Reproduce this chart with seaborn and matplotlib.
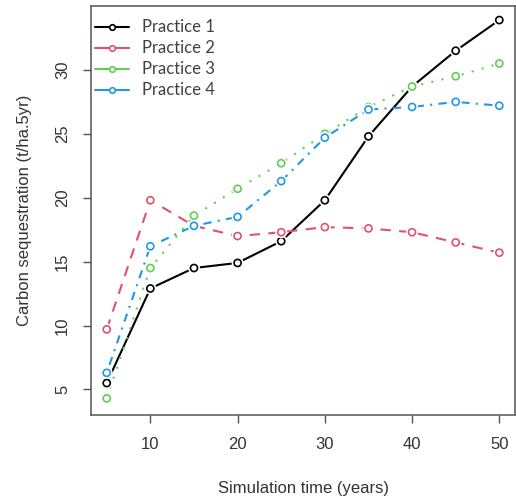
import numpy as np
import pandas as pd
import matplotlib
matplotlib.use('Agg')
import matplotlib.pyplot as plt
import matplotlib.patheffects as pe
from matplotlib.lines import Line2D
import seaborn as sns

years = [5, 10, 15, 20, 25, 30, 35, 40, 45, 50]
practice1 = [5.5, 12.9, 14.5, 14.9, 16.6, 19.8, 24.8, 28.7, 31.5, 33.9]
practice2 = [9.7, 19.8, 17.8, 17.0, 17.3, 17.7, 17.6, 17.3, 16.5, 15.7]
practice3 = [4.3, 14.5, 18.6, 20.7, 22.7, 25.0, 27.1, 28.7, 29.5, 30.5]
practice4 = [6.3, 16.2, 17.8, 18.5, 21.3, 24.7, 26.9, 27.1, 27.5, 27.2]
labels = ['Practice 1', 'Practice 2', 'Practice 3', 'Practice 4']
xticks = [10, 20, 30, 40, 50]
yticks = [5, 10, 15, 20, 25, 30]

COLORS = ['black', '#DF536B', '#61D04F', '#2297E6']
LINESTYLES = ['-', (0, (5, 4)), (0, (1, 4)), (0, (1, 3, 4, 3))]

df = pd.DataFrame({'time': years * 4,
                   'carbon': practice1 + practice2 + practice3 + practice4,
                   'practice': np.repeat(labels, len(years))})

sns.set_style('ticks')
plt.rcParams['font.family'] = ['Liberation Sans', 'DejaVu Sans']

fig = plt.figure(figsize=(5.16, 5.0), dpi=100)
ax = fig.add_axes([0.1764, 0.17, 0.8217, 0.818])

# white ring round each point, like R's type = "b"
halo = [pe.withStroke(linewidth=3.5, foreground='white')]
for name, c, ls in zip(labels, COLORS, LINESTYLES):
    sub = df[df['practice'] == name]
    sns.lineplot(data=sub, x='time', y='carbon', color=c, linestyle=ls,
                 linewidth=1.5, ax=ax, zorder=2)
for name, c in zip(labels, COLORS):
    sub = df[df['practice'] == name]
    sns.scatterplot(data=sub, x='time', y='carbon', marker='o', s=26,
                    facecolor='white', edgecolor=c, linewidth=1.2,
                    path_effects=halo, ax=ax, zorder=3)

ax.set_xlim(3.2, 51.8)
ax.set_ylim(3.0, 35.0)
ax.set_xticks(xticks)
ax.set_yticks(yticks)
ax.tick_params(axis='both', length=6, width=1, color='#555555',
               labelsize=12, labelcolor='#333333', pad=10)
ax.tick_params(axis='y', labelrotation=90, pad=9)
for t in ax.get_yticklabels():
    t.set_va('center')
for s in ax.spines.values():
    s.set_visible(True)
    s.set_color('#606060')
    s.set_linewidth(1.2)

ax.set_xlabel('Simulation time (years)', fontsize=12, color='#333333', labelpad=21)
ax.set_ylabel('Carbon sequestration (t/ha.5yr)', fontsize=12, color='#333333', labelpad=17)

handles = [Line2D([], [], color=c, linewidth=1.5, marker='o', markersize=4,
                  markerfacecolor='white', markeredgecolor=c, markeredgewidth=1.2)
           for c in COLORS]
leg = ax.legend(handles, labels, loc='upper left', bbox_to_anchor=(0.01, 0.967),
                frameon=False, borderpad=0, borderaxespad=0, handlelength=2.0,
                handletextpad=0.8, labelspacing=0.3,
                prop={'family': ['Lato', 'DejaVu Sans'], 'size': 12})
for t in leg.get_texts():
    t.set_color('#404040')

fig.savefig('out.png', dpi=100)
